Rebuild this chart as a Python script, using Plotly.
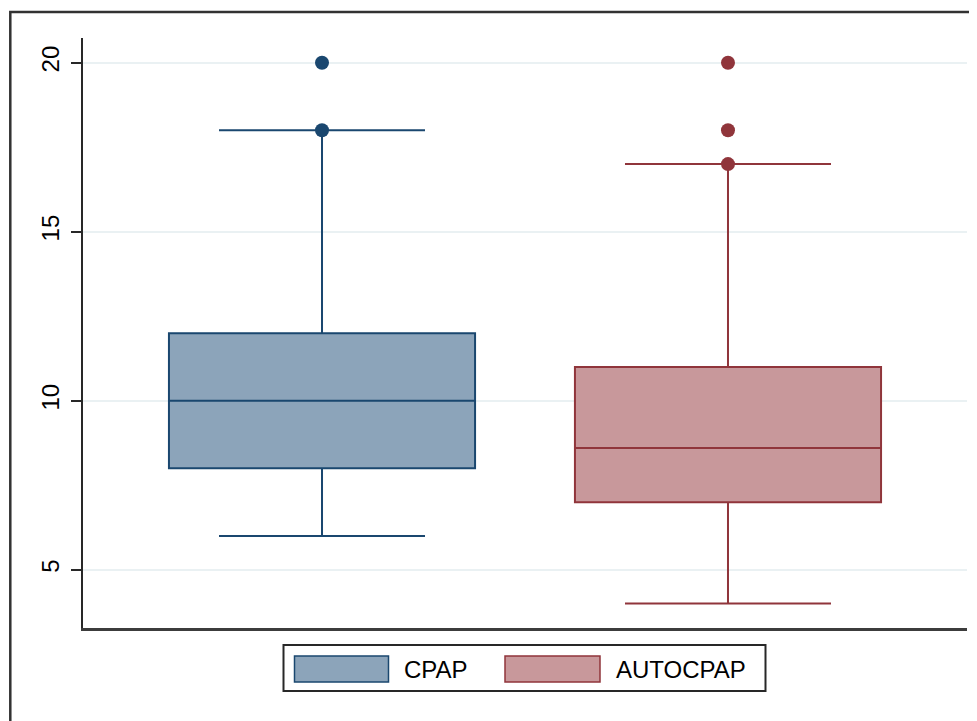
import plotly.graph_objects as go

# ---- data ----
groups = ["CPAP", "AUTOCPAP"]
positions = [1, 2]
q1 = [8, 7]
medians = [10, 8.6]
q3 = [12, 11]
lower_adj = [6, 4]
upper_adj = [18, 17]
outliers = [[18, 20], [17, 18, 20]]
y_ticks = [5, 10, 15, 20]

line_colors = ["rgb(26,71,111)", "rgb(144,53,59)"]
fill_colors = ["rgb(140,164,186)", "rgb(200,152,155)"]

OFF = 8  # default page body margin
W, H = 977 - OFF, 721 - OFF
L, R, T, B = 83 - OFF, 10, 38 - OFF, 93
pw, ph = W - L - R, H - T - B

def px(x):
    # page pixel -> paper fraction
    return (x - OFF - L) / pw

def py(y):
    return (H - B - (y - OFF)) / ph

FONT = "Liberation Sans, Arial, Helvetica, sans-serif"
FS = 24

fig = go.Figure()
for i, g in enumerate(groups):
    fig.add_trace(go.Box(
        x=[positions[i]], q1=[q1[i]], median=[medians[i]], q3=[q3[i]],
        lowerfence=[lower_adj[i]], upperfence=[upper_adj[i]],
        name=g, width=0.754, whiskerwidth=0.673,
        fillcolor=fill_colors[i], line=dict(color=line_colors[i], width=2),
        boxpoints=False, showlegend=False, hoverinfo="skip",
    ))
    fig.add_trace(go.Scatter(
        x=[positions[i]] * len(outliers[i]), y=outliers[i], mode="markers",
        marker=dict(color=line_colors[i], size=14, line=dict(width=0)),
        showlegend=False, hoverinfo="skip",
    ))

shapes = []
# outer frame
shapes.append(dict(type="rect", xref="paper", yref="paper",
                   x0=px(10.3), x1=px(1000), y0=py(12), y1=py(760),
                   line=dict(color="rgb(50,50,50)", width=2.5), layer="below"))
# legend box
shapes.append(dict(type="rect", xref="paper", yref="paper",
                   x0=px(283.5), x1=px(765.5), y0=py(645), y1=py(691),
                   line=dict(color="rgb(40,40,40)", width=2), fillcolor="white"))
# legend swatches
sw = [(294.5, 388.5), (505, 600)]
for i in range(2):
    shapes.append(dict(type="rect", xref="paper", yref="paper",
                       x0=px(sw[i][0]), x1=px(sw[i][1]), y0=py(656), y1=py(682),
                       line=dict(color=line_colors[i], width=1.5),
                       fillcolor=fill_colors[i]))

annotations = []
text_x = [402, 614]
for i, g in enumerate(groups):
    annotations.append(dict(xref="paper", yref="paper", x=px(text_x[i]), y=py(669),
                            text=g, showarrow=False, xanchor="left", yanchor="middle",
                            font=dict(family=FONT, size=FS, color="black")))

fig.update_layout(
    width=W, height=H,
    margin=dict(l=L, r=R, t=T, b=B, pad=0),
    paper_bgcolor="white", plot_bgcolor="white",
    font=dict(family=FONT, size=FS, color="black"),
    shapes=shapes, annotations=annotations,
    showlegend=False,
)
fig.update_xaxes(range=[0.4113, 2.5887], showticklabels=False, ticks="",
                 showgrid=False, zeroline=False, showline=True,
                 linecolor="rgb(60,60,60)", linewidth=2.5)
fig.update_yaxes(range=[3.278, 20.73], tickvals=y_ticks, ticktext=[str(v) for v in y_ticks],
                 tickangle=-90, ticks="outside", ticklen=10, tickwidth=1.5,
                 tickcolor="rgb(40,40,40)", showgrid=True, gridcolor="rgb(234,241,243)",
                 gridwidth=1.5, zeroline=False, showline=True,
                 linecolor="rgb(40,40,40)", linewidth=2, ticklabelstandoff=2,
                 tickfont=dict(family=FONT, size=FS, color="black"))

fig.write_html("out.html")
